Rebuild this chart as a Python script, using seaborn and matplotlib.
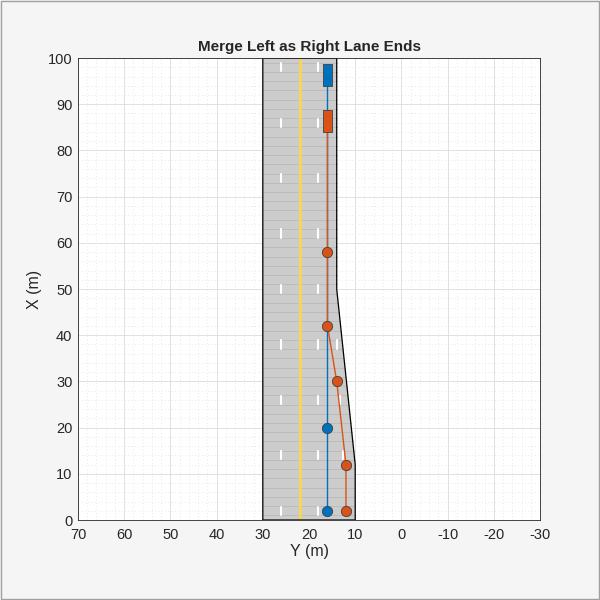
import numpy as np
import pandas as pd
import matplotlib
matplotlib.use("Agg")
import matplotlib.pyplot as plt
import seaborn as sns
from matplotlib.patches import Polygon, Rectangle

sns.set_style("white")
plt.rcParams['font.family'] = ['Liberation Sans', 'DejaVu Sans']
plt.rcParams['axes.unicode_minus'] = False

# data
road_x = [0, 12, 50, 100, 100, 0]
road_y = [10, 10, 14, 14, 30, 30]
dash_x = [2, 14, 26, 38, 50, 62, 74, 86, 98]
extra_dash_x = [14, 26, 38]
blue_wp_x = [2, 20]
blue_wp_y = [16, 16]
blue_path_x = [2, 20, 94]
blue_path_y = [16, 16, 16]
orange_wp_x = [2, 12, 30, 42, 58]
orange_wp_y = [12, 12, 14, 16, 16]
orange_path_x = [2, 12, 30, 42, 58, 84]
orange_path_y = [12, 12, 14, 16, 16, 16]
blue = "#0072BD"
orange = "#D95319"

fig = plt.figure(figsize=(6, 6), dpi=100, facecolor="#f5f5f5")
fig.patches.append(Rectangle((0.002, 0.002), 0.996, 0.996, transform=fig.transFigure,
                             fill=False, ec="#a0a0a0", lw=1))
ax = fig.add_axes([0.13, 0.1333, 0.77, 0.77])
ax.set_facecolor("white")

ax.add_patch(Polygon(list(zip(road_y, road_x)), closed=True, fc="#cccccc", ec="none", zorder=1))
for xv in np.arange(1, 100, 2):
    right = 10 if xv <= 12 else (10 + 4 * (xv - 12) / 38 if xv < 50 else 14)
    ax.plot([30, right], [xv, xv], color="#bcbcbc", lw=0.7, zorder=1.5)
ax.add_patch(Polygon(list(zip(road_y, road_x)), closed=True, fc="none", ec="black", lw=0.9, zorder=2.5))
ax.plot([22, 22], [0, 100], color="#f5d55a", lw=2.2, zorder=2)
for d in dash_x:
    for yy in (26, 18):
        ax.plot([yy, yy], [d - 0.9, d + 0.9], color="white", lw=1.5, zorder=2)
for d in extra_dash_x:
    yy = 12 + 2 * (d - 12) / 38 + 0.6
    ax.plot([yy, yy], [d - 0.9, d + 0.9], color="white", lw=1.5, zorder=2)

bdf = pd.DataFrame({"X": blue_path_x, "Y": blue_path_y})
odf = pd.DataFrame({"X": orange_path_x, "Y": orange_path_y})
sns.lineplot(data=bdf, x="Y", y="X", sort=False, estimator=None, color=blue, lw=1, ax=ax, zorder=3)
sns.lineplot(data=odf, x="Y", y="X", sort=False, estimator=None, color=orange, lw=1, ax=ax, zorder=3)
sns.scatterplot(x=blue_wp_y, y=blue_wp_x, color=blue, s=55, edgecolor="#404040", linewidth=0.6, ax=ax, zorder=4)
sns.scatterplot(x=orange_wp_y, y=orange_wp_x, color=orange, s=55, edgecolor="#404040", linewidth=0.6, ax=ax, zorder=4)

ax.add_patch(Rectangle((15, 94), 2, 4.7, fc=blue, ec="#404040", lw=0.6, zorder=5))
ax.add_patch(Rectangle((15, 84), 2, 4.7, fc=orange, ec="#404040", lw=0.6, zorder=5))

ax.set_xlim(70, -30)
ax.set_ylim(0, 100)
ax.set_xticks(np.arange(70, -31, -10))
ax.set_yticks(np.arange(0, 101, 10))
ax.set_xticks(np.arange(70, -31, -2), minor=True)
ax.set_yticks(np.arange(0, 101, 2), minor=True)
ax.grid(True, which="major", color="#dcdcdc", lw=0.6, zorder=0)
ax.grid(True, which="minor", color="#e2e2e2", lw=0.6, ls=(0, (1, 3)), zorder=0)
ax.set_axisbelow(True)
ax.tick_params(which="major", direction="in", length=3, labelsize=10.5, color="#262626", pad=4)
ax.tick_params(axis="x", pad=6)
ax.tick_params(which="minor", length=0)
for s in ax.spines.values():
    s.set_color("#262626"); s.set_linewidth(0.6); s.set_visible(True)
ax.set_xlabel("Y (m)", fontsize=11.5, labelpad=1)
ax.set_ylabel("X (m)", fontsize=11.5)
ax.set_title("Merge Left as Right Lane Ends", fontsize=11, fontweight="bold", pad=5)
fig.savefig("out.png", dpi=100, facecolor=fig.get_facecolor())
